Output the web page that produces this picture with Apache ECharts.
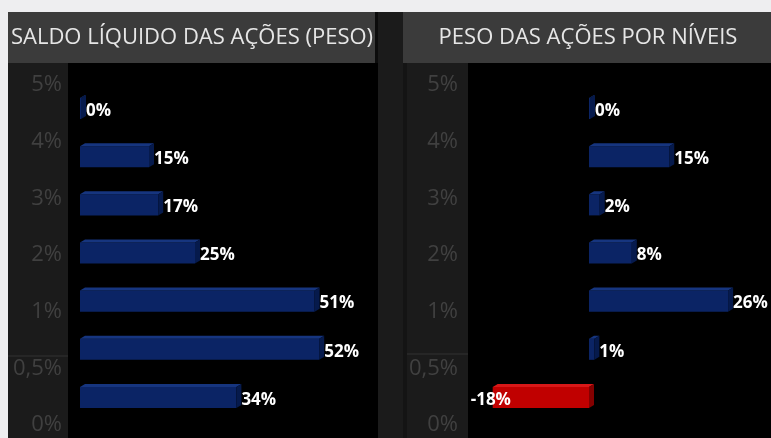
<!DOCTYPE html>
<html>
<head>
<meta charset="utf-8">
<script src="https://cdn.jsdelivr.net/npm/echarts@6/dist/echarts.min.js"></script>
<style>
  html, body { margin: 0; padding: 0; background: #eeeef0; }
  #main { width: 771px; height: 438px; }
</style>
</head>
<body>
<div id="main"></div>
<script>
// linhas (rotulos do eixo, de cima para baixo)
const rotulosEixo = ['5%', '4%', '3%', '2%', '1%', '0,5%', '0%'];
// valores de cada painel (%)
const saldoLiquido = [0, 15, 17, 25, 51, 52, 34];
const pesoNiveis = [0, 15, 2, 8, 26, 1, -18];

const tituloEsq = 'SALDO LÍQUIDO DAS AÇÕES (PESO)';
const tituloDir = 'PESO DAS AÇÕES POR NÍVEIS';

// barras com efeito 3D (face frontal, topo e lateral)
const render3d = (params, api) => {
  const v = api.value(0);
  const cat = api.value(1);
  const p0 = api.coord([0, cat]);
  const p1 = api.coord([v, cat]);
  const h = api.size([0, 1])[1] * 0.5;
  const dx = 5, dy = 3;
  let x0 = Math.min(p0[0], p1[0]);
  let x1 = Math.max(p0[0], p1[0]);
  if (x1 - x0 < 1) x1 = x0 + 1;
  const y = p0[1] - h / 2;
  const neg = v < 0;
  const cor = neg ? ['#c00000', '#d81818', '#840000'] : ['#0b2465', '#16357f', '#061a4c'];
  const txt = Math.round(v) + '%';
  return {
    type: 'group',
    children: [
      { type: 'rect', shape: { x: x0, y: y + dy, width: x1 - x0, height: h - dy }, style: { fill: cor[0] } },
      { type: 'polygon', shape: { points: [[x0, y + dy], [x0 + dx, y], [x1 + dx, y], [x1, y + dy]] }, style: { fill: cor[1] } },
      { type: 'polygon', shape: { points: [[x1, y + dy], [x1 + dx, y], [x1 + dx, y + h - dy], [x1, y + h]] }, style: { fill: cor[2] } },
      {
        type: 'text',
        style: {
          text: txt,
          x: neg ? x0 - 22 : x1 + dx,
          y: p0[1] + 4,
          fill: '#ffffff',
          font: 'bold 17px "Open Sans"',
          align: 'left',
          verticalAlign: 'middle'
        },
        z2: 10
      }
    ]
  };
};

const chart = echarts.init(document.getElementById('main'));

chart.setOption({
  backgroundColor: '#eeeef0',
  animation: false,
  graphic: [
    { type: 'rect', z: -10, shape: { x: 8, y: 12, width: 763, height: 426 }, style: { fill: '#1b1b1b' } },
    { type: 'rect', z: -10, shape: { x: 68, y: 63, width: 310, height: 375 }, style: { fill: '#000000' } },
    { type: 'rect', z: -10, shape: { x: 375, y: 12, width: 3, height: 51 }, style: { fill: '#0c0c0c' } },
    { type: 'rect', z: -10, shape: { x: 468, y: 63, width: 303, height: 375 }, style: { fill: '#000000' } },
    { type: 'rect', z: -10, shape: { x: 8, y: 12, width: 367, height: 51 }, style: { fill: '#3b3b3b' } },
    { type: 'rect', z: -10, shape: { x: 403, y: 12, width: 368, height: 51 }, style: { fill: '#3b3b3b' } },
    { type: 'rect', z: -10, shape: { x: 403, y: 63, width: 4, height: 375 }, style: { fill: '#141414' } },
    { type: 'line', z: -9, shape: { x1: 8, y1: 356, x2: 68, y2: 356 }, style: { stroke: '#333333', lineWidth: 1 } },
    { type: 'line', z: -9, shape: { x1: 407, y1: 354, x2: 468, y2: 354 }, style: { stroke: '#333333', lineWidth: 1 } },
    { type: 'text', x: 192, y: 38, style: { text: tituloEsq, fill: '#e6e6e6', font: '22px "Open Sans"', align: 'center', verticalAlign: 'middle' } },
    { type: 'text', x: 588, y: 38, style: { text: tituloDir, fill: '#e6e6e6', font: '22px "Open Sans"', align: 'center', verticalAlign: 'middle' } }
  ],
  grid: [
    { left: 80, top: 83, width: 276, height: 337 },
    { left: 482, top: 83, width: 267.5, height: 337 },
    { left: 68, top: 85, width: 300, height: 340 },
    { left: 468, top: 85, width: 300, height: 340 }
  ],
  xAxis: [
    { gridIndex: 0, type: 'value', min: 0, max: 60, show: false },
    { gridIndex: 1, type: 'value', min: -20, max: 30, show: false },
    { gridIndex: 2, type: 'value', show: false },
    { gridIndex: 3, type: 'value', show: false }
  ],
  yAxis: [
    { gridIndex: 0, type: 'category', data: rotulosEixo, inverse: true, show: false },
    { gridIndex: 1, type: 'category', data: rotulosEixo, inverse: true, show: false },
    {
      gridIndex: 2, type: 'category', data: rotulosEixo, inverse: true, boundaryGap: false,
      axisLine: { show: false }, axisTick: { show: false },
      axisLabel: { color: '#404040', fontSize: 22, fontFamily: 'Open Sans', margin: 6 }
    },
    {
      gridIndex: 3, type: 'category', data: rotulosEixo, inverse: true, boundaryGap: false,
      axisLine: { show: false }, axisTick: { show: false },
      axisLabel: { color: '#404040', fontSize: 22, fontFamily: 'Open Sans', margin: 10 }
    }
  ],
  series: [
    {
      type: 'custom', xAxisIndex: 0, yAxisIndex: 0, renderItem: render3d,
      data: saldoLiquido.map((v, i) => [v, i])
    },
    {
      type: 'custom', xAxisIndex: 1, yAxisIndex: 1, renderItem: render3d,
      data: pesoNiveis.map((v, i) => [v, i])
    }
  ]
});
</script>
</body>
</html>
